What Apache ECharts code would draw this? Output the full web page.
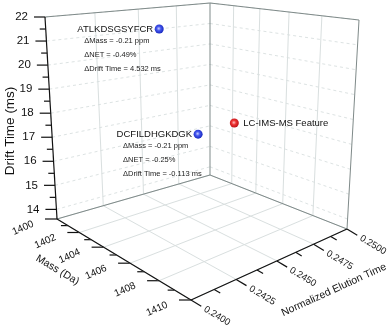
<!DOCTYPE html>
<html>
<head>
<meta charset="utf-8">
<script src="https://cdn.jsdelivr.net/npm/echarts@6.0.0/dist/echarts.min.js"></script>
<style>
  html, body { margin: 0; padding: 0; background: #fff; }
  #chart { width: 392px; height: 331px; }
</style>
</head>
<body>
<div id="chart"></div>
<script>
// axis ticks
const massTicks = [1400, 1402, 1404, 1406, 1408, 1410];
const netTicks = [0.24, 0.2425, 0.245, 0.2475, 0.25];
const netLabels = ["0.2400", "0.2425", "0.2450", "0.2475", "0.2500"];
const driftTicks = [14, 15, 16, 17, 18, 19, 20, 21, 22];

// points
const names = ["ATLKDSGSYFCR", "DCFILDHGKDGK", "LC-IMS-MS Feature"];
const massValues = [1404.5, 1404.5, 1404.5];
const netValues = [0.2429, 0.2452, 0.2477];
const driftValues = [21.6, 17.1, 17.2];
const deltaMass = [-0.21, -0.21];
const deltaNet = [-0.49, -0.25];
const deltaDrift = [4.532, -0.113];

const MASS = [1400, 1410];
const NET = [0.24, 0.25];
const DRIFT = [13.6, 22];

// box corners on screen (floor / roof), A = low mass & low NET, F = high mass & low NET,
// B = low mass & high NET, R = high mass & high NET. depth gives the perspective.
const floorPts = { A: [57, 219], F: [191, 300], B: [210, 175], R: [347, 229] };
const roofPts = { A: [45, 17], F: [192, 34], B: [210, 3], R: [359, 20] };
const depth = { A: 1, F: 0.8, B: 1.3, R: 0.98 };

function project(m, n, d) {
  let u = (m - MASS[0]) / (MASS[1] - MASS[0]);
  let v = (n - NET[0]) / (NET[1] - NET[0]);
  let w = (d - DRIFT[0]) / (DRIFT[1] - DRIFT[0]);
  let b = {
    A: (1 - u) * (1 - v) * depth.A,
    F: u * (1 - v) * depth.F,
    B: (1 - u) * v * depth.B,
    R: u * v * depth.R,
  };
  let s = b.A + b.F + b.B + b.R;
  let x = 0, y = 0;
  for (let k of ["A", "F", "B", "R"]) {
    x += b[k] * (floorPts[k][0] + w * (roofPts[k][0] - floorPts[k][0]));
    y += b[k] * (floorPts[k][1] + w * (roofPts[k][1] - floorPts[k][1]));
  }
  return [x / s, y / s];
}

function pt(api, m, n, d) {
  return api.coord(project(m, n, d));
}

const FONT = "'Liberation Sans', Arial, sans-serif";
const gridSolid = { stroke: "#d9dfdf", lineWidth: 1 };
const gridDash = { stroke: "#dde3e3", lineWidth: 1, lineDash: [3, 3] };
const edgeStyle = { stroke: "#7f8a89", lineWidth: 1 };
const axisStyle = { stroke: "#111", lineWidth: 1.2 };

function line(p, q, style) {
  return {
    type: "line",
    shape: { x1: p[0], y1: p[1], x2: q[0], y2: q[1] },
    style: style,
  };
}

function text(p, str, size, opts) {
  opts = opts || {};
  return {
    type: "text",
    x: p[0],
    y: p[1],
    rotation: opts.rotation || 0,
    style: {
      text: str,
      fill: opts.color || "#111",
      fontSize: size,
      fontFamily: FONT,
      align: opts.align || "center",
      verticalAlign: "middle",
    },
  };
}

function unit(p, q) {
  let dx = q[0] - p[0], dy = q[1] - p[1];
  let l = Math.sqrt(dx * dx + dy * dy);
  return [dx / l, dy / l];
}

// screen directions of the mass and NET axes
const massDir = unit(project(MASS[0], NET[0], DRIFT[0]), project(MASS[1], NET[0], DRIFT[0]));
const netDir = unit(project(MASS[1], NET[0], DRIFT[0]), project(MASS[1], NET[1], DRIFT[0]));
const massAngle = Math.atan2(-massDir[1], massDir[0]);
const netAngle = Math.atan2(-netDir[1], netDir[0]);

function driftItem(params, api) {
  let i = params.dataIndex;
  let d = api.value(0);
  let a = pt(api, MASS[0], NET[0], d);
  let b = pt(api, MASS[0], NET[1], d);
  let r = pt(api, MASS[1], NET[1], d);
  let children = [line(a, b, gridDash), line(b, r, gridDash)];
  children.push(line(a, [a[0] - 11, a[1]], axisStyle));
  if (i < driftTicks.length - 1) {
    let m = pt(api, MASS[0], NET[0], (d + driftTicks[i + 1]) / 2);
    children.push(line(m, [m[0] - 6, m[1]], axisStyle));
  }
  children.push(text([a[0] - 17, a[1]], String(d), 11.5, { align: "right" }));
  return { type: "group", children: children };
}

function massItem(params, api) {
  let i = params.dataIndex;
  let m = api.value(0);
  let p = pt(api, m, NET[0], DRIFT[0]);
  let q = pt(api, m, NET[1], DRIFT[0]);
  let children = [line(p, q, gridSolid)];
  if (i > 0 && i < massTicks.length - 1) {
    children.push(line(q, pt(api, m, NET[1], DRIFT[1]), gridSolid));
  }
  children.push(line(p, [p[0] - 12, p[1]], axisStyle));
  if (i < massTicks.length - 1) {
    let h = pt(api, (m + massTicks[i + 1]) / 2, NET[0], DRIFT[0]);
    children.push(line(h, [h[0] - 7, h[1]], axisStyle));
  }
  children.push(text([p[0] - 34, p[1] + 9], String(m), 10, { rotation: netAngle }));
  return { type: "group", children: children };
}

function netItem(params, api) {
  let i = params.dataIndex;
  let n = api.value(0);
  let p = pt(api, MASS[1], n, DRIFT[0]);
  let q = pt(api, MASS[0], n, DRIFT[0]);
  let children = [line(p, q, gridSolid)];
  if (i > 0 && i < netTicks.length - 1) {
    children.push(line(q, pt(api, MASS[0], n, DRIFT[1]), gridSolid));
  }
  children.push(line(p, [p[0] + 12 * massDir[0], p[1] + 12 * massDir[1]], axisStyle));
  if (i < netTicks.length - 1) {
    let h = pt(api, MASS[1], (n + netTicks[i + 1]) / 2, DRIFT[0]);
    children.push(line(h, [h[0] + 7 * massDir[0], h[1] + 7 * massDir[1]], axisStyle));
  }
  children.push(text([p[0] + 26, p[1] + 16], netLabels[i], 9.5, { rotation: massAngle }));
  return { type: "group", children: children };
}

function frameItem(params, api) {
  let A = pt(api, MASS[0], NET[0], DRIFT[0]);
  let F = pt(api, MASS[1], NET[0], DRIFT[0]);
  let B = pt(api, MASS[0], NET[1], DRIFT[0]);
  let R = pt(api, MASS[1], NET[1], DRIFT[0]);
  let A2 = pt(api, MASS[0], NET[0], DRIFT[1]);
  let B2 = pt(api, MASS[0], NET[1], DRIFT[1]);
  let R2 = pt(api, MASS[1], NET[1], DRIFT[1]);
  let massMid = pt(api, (MASS[0] + MASS[1]) / 2, NET[0], DRIFT[0]);
  let netMid = pt(api, MASS[1], (NET[0] + NET[1]) / 2, DRIFT[0]);
  let driftMid = pt(api, MASS[0], NET[0], (DRIFT[0] + DRIFT[1]) / 2);
  return {
    type: "group",
    children: [
      line(A2, B2, edgeStyle),
      line(B2, R2, edgeStyle),
      line(B, B2, edgeStyle),
      line(R, R2, edgeStyle),
      line(A, B, edgeStyle),
      line(B, R, edgeStyle),
      line(A, A2, axisStyle),
      line(A, F, axisStyle),
      line(F, R, axisStyle),
      text([driftMid[0] - 41, driftMid[1] + 13], "Drift Time (ms)", 13.5, { rotation: Math.PI / 2 }),
      text([massMid[0] - 59, massMid[1] + 15], "Mass (Da)", 10.5, { rotation: massAngle }),
      text([netMid[0] + 57, netMid[1] + 29], "Normalized Elution Time", 10.5, { rotation: netAngle }),
    ],
  };
}

function ball(color) {
  if (color == "red") {
    return new echarts.graphic.RadialGradient(0.45, 0.45, 0.6, [
      { offset: 0, color: "#ffc4c4" },
      { offset: 0.4, color: "#ee3434" },
      { offset: 1, color: "#b50c12" },
    ]);
  }
  return new echarts.graphic.RadialGradient(0.45, 0.45, 0.6, [
    { offset: 0, color: "#c9d0ff" },
    { offset: 0.4, color: "#4456ee" },
    { offset: 1, color: "#1222b8" },
  ]);
}

function pointItem(params, api) {
  let i = params.dataIndex;
  let p = api.coord(project(api.value(0), api.value(1), api.value(2)));
  let isFeature = i == names.length - 1;
  let children = [
    {
      type: "circle",
      shape: { cx: p[0], cy: p[1], r: 4.5 },
      style: { fill: ball(isFeature ? "red" : "blue") },
    },
  ];
  if (isFeature) {
    children.push(text([p[0] + 9, p[1]], names[i], 9.5, { align: "left" }));
  } else {
    children.push(text([p[0] - 6, p[1]], names[i], 9.5, { align: "right" }));
    let x = p[0] - 75;
    children.push(text([x, p[1] + 12], "\u0394Mass = " + deltaMass[i] + " ppm", 7.5, { align: "left", color: "#222" }));
    children.push(text([x, p[1] + 25.5], "\u0394NET = " + deltaNet[i] + "%", 7.5, { align: "left", color: "#222" }));
    children.push(text([x, p[1] + 40], "\u0394Drift Time = " + deltaDrift[i] + " ms", 7.5, { align: "left", color: "#222" }));
  }
  return { type: "group", children: children };
}

let chart = echarts.init(document.getElementById("chart"));
let option = {
  animation: false,
  backgroundColor: "#fff",
  grid: { left: 0, right: 0, top: 0, bottom: 0 },
  xAxis: { type: "value", min: 0, max: 392, show: false },
  yAxis: { type: "value", min: 0, max: 331, inverse: true, show: false },
  series: [
    { type: "custom", silent: true, renderItem: driftItem, data: driftTicks.map((t) => [t, 0]) },
    { type: "custom", silent: true, renderItem: massItem, data: massTicks.map((t) => [t, 0]) },
    { type: "custom", silent: true, renderItem: netItem, data: netTicks.map((t) => [t, 0]) },
    { type: "custom", silent: true, renderItem: frameItem, data: [[0, 0]] },
    {
      type: "custom",
      renderItem: pointItem,
      data: names.map((n, i) => [massValues[i], netValues[i], driftValues[i]]),
    },
  ],
};
chart.setOption(option);
</script>
</body>
</html>
